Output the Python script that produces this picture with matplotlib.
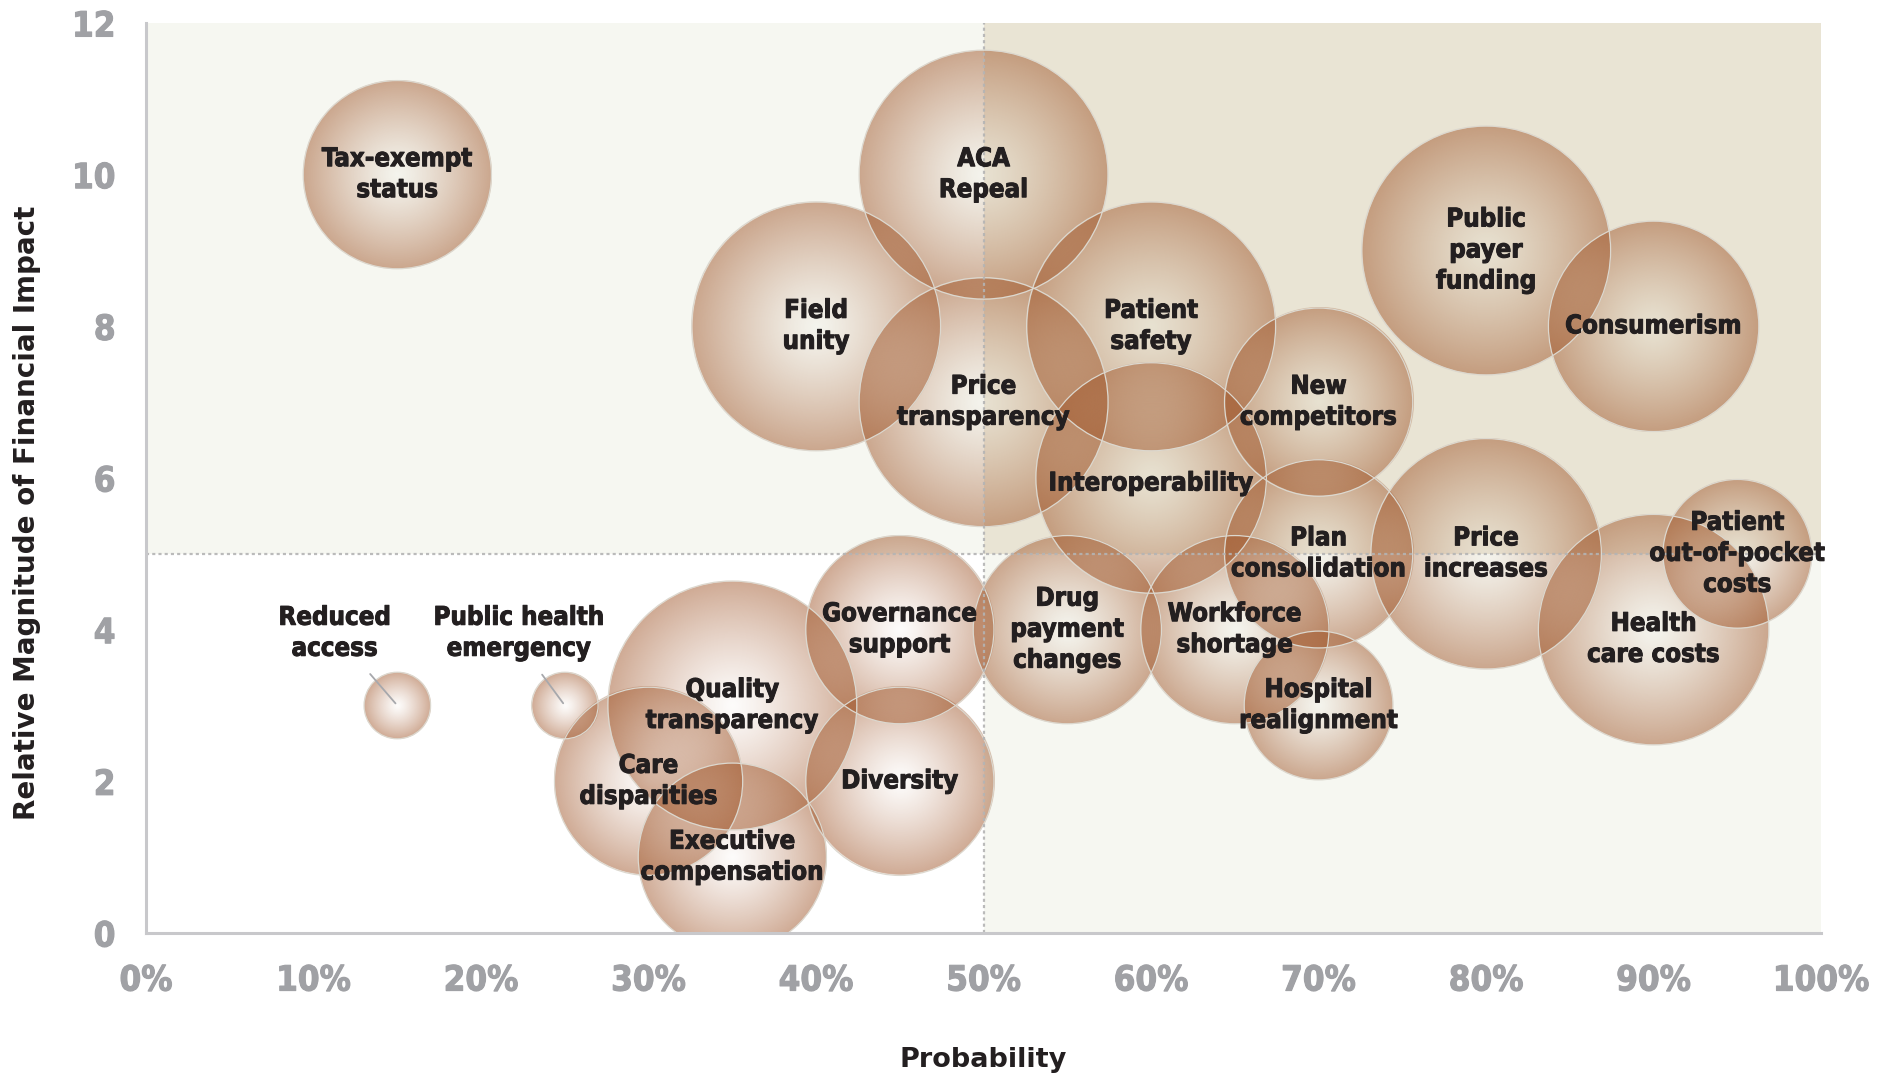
import matplotlib
matplotlib.use("Agg")
import matplotlib.pyplot as plt
import matplotlib.patheffects as pe
import numpy as np

# ---- data ----
risk_labels = ["Tax-exempt\nstatus", "ACA\nRepeal", "Field\nunity", "Patient\nsafety",
               "Price\ntransparency", "New\ncompetitors", "Interoperability",
               "Public\npayer\nfunding", "Consumerism", "Plan\nconsolidation",
               "Price\nincreases", "Patient\nout-of-pocket\ncosts", "Health\ncare costs",
               "Drug\npayment\nchanges", "Workforce\nshortage", "Hospital\nrealignment",
               "Governance\nsupport", "Quality\ntransparency", "Care\ndisparities",
               "Executive\ncompensation", "Diversity", "Reduced\naccess",
               "Public health\nemergency"]
probability = [0.15, 0.50, 0.40, 0.60, 0.50, 0.70, 0.60, 0.80, 0.90, 0.70, 0.80, 0.95,
               0.90, 0.55, 0.65, 0.70, 0.45, 0.35, 0.30, 0.35, 0.45, 0.15, 0.25]
impact = [10, 10, 8, 8, 7, 7, 6, 9, 8, 5, 5, 5, 4, 4, 4, 3, 4, 3, 2, 1, 2, 3, 3]
bubble_size = [8, 14, 14, 14, 14, 8, 12, 14, 10, 8, 12, 5, 12, 8, 8, 5, 8, 14, 8, 8, 8, 1, 1]

x_ticks = [0, 0.1, 0.2, 0.3, 0.4, 0.5, 0.6, 0.7, 0.8, 0.9, 1.0]
x_tick_labels = ["0%", "10%", "20%", "30%", "40%", "50%", "60%", "70%", "80%", "90%", "100%"]
y_ticks = [0, 2, 4, 6, 8, 10, 12]
x_split = 0.5
y_split = 5

# labels that sit next to their (tiny) bubble, with a leader line
callouts = {"Reduced\naccess": ((-45, 52), (0.72, 0)),
            "Public health\nemergency": ((-33, 52), (0.58, 0))}
label_nudge = {"Interoperability": (0, -4), "Health\ncare costs": (0, -7)}

DPI = 100
ink = "#231f20"
tick_grey = "#a0a1a5"
cond = dict(family="DejaVu Sans", fontstretch="condensed", fontweight="bold")
heavy = [pe.withStroke(linewidth=0.7, foreground=ink)]

fig = plt.figure(figsize=(18.87, 10.79), dpi=DPI)
ax = fig.add_axes([0.0774, 0.1353, 0.8877, 0.8434])
ax.set_xlim(0, 1)
ax.set_ylim(0, 12)

# quadrant backgrounds
ax.fill_between([0, x_split], y_split, 12, color="#f6f7f1", lw=0, zorder=0)
ax.fill_between([x_split, 1], y_split, 12, color="#e9e4d4", lw=0, zorder=0)
ax.fill_between([x_split, 1], 0, y_split, color="#f6f7f1", lw=0, zorder=0)

# pixel scale of the data axes
p0 = ax.transData.transform((0, 0))
px_per_x = ax.transData.transform((1, 0))[0] - p0[0]
px_per_y = ax.transData.transform((0, 1))[1] - p0[1]

# radial gradient sprite (brown tint, nearly clear centre -> denser rim)
N = 401
g = np.linspace(-1, 1, N)
gx, gy = np.meshgrid(g, g)
rr = np.sqrt(gx ** 2 + gy ** 2)
alpha = 0.02 + 0.48 * np.clip(rr, 0, 1) ** 1.2
alpha *= np.clip((1 - rr) * N / 2 + 0.5, 0, 1)
tint = np.array([160, 86, 42]) / 255.0
sprite = np.zeros((N, N, 4))
sprite[..., :3] = tint
sprite[..., 3] = alpha

radius_px = 33.27 * np.sqrt(np.array(bubble_size, dtype=float))

for xv, yv, r in zip(probability, impact, radius_px):
    rx = r / px_per_x
    ry = r / px_per_y
    ax.imshow(sprite, extent=[xv - rx, xv + rx, yv - ry, yv + ry], origin="lower",
              interpolation="bilinear", aspect="auto", zorder=2)

# thin light rims
ax.scatter(probability, impact, s=(2 * radius_px * 72 / DPI) ** 2, facecolors="none",
           edgecolors="#dcd8cf", linewidths=0.9, zorder=3)

# quadrant dividers
ax.axvline(x_split, color="#b4b4b4", lw=1.6, ls=(0, (1.4, 1.4)), zorder=4, alpha=0.9)
ax.axhline(y_split, color="#b4b4b4", lw=1.6, ls=(0, (1.4, 1.4)), zorder=4, alpha=0.9)

for lab, xv, yv in zip(risk_labels, probability, impact):
    if lab in callouts:
        offset, rel = callouts[lab]
        ax.annotate(lab, xy=(xv, yv), xytext=offset, textcoords="offset points",
                    ha="center", va="center", fontsize=18.5, color=ink, linespacing=1.25,
                    zorder=6, path_effects=heavy,
                    arrowprops=dict(arrowstyle="-", color="#a7a8ac", lw=1.3,
                                    shrinkA=9, shrinkB=2, relpos=rel), **cond)
    else:
        dx, dy = label_nudge.get(lab, (0, 0))
        ax.annotate(lab, xy=(xv, yv), xytext=(dx, dy), textcoords="offset points",
                    ha="center", va="center", fontsize=18.5, color=ink, linespacing=1.25,
                    zorder=6, path_effects=heavy, **cond)

ax.set_xlim(0, 1)
ax.set_ylim(0, 12)
for side in ["top", "right"]:
    ax.spines[side].set_visible(False)
for side in ["left", "bottom"]:
    ax.spines[side].set_color("#c8c8cb")
    ax.spines[side].set_linewidth(2.2)
    ax.spines[side].set_zorder(5)

ax.set_xticks(x_ticks)
ax.set_xticklabels(x_tick_labels)
ax.set_yticks(y_ticks)
ax.tick_params(length=0)
ax.tick_params(axis="x", pad=22)
ax.tick_params(axis="y", pad=22)
for t in ax.get_xticklabels() + ax.get_yticklabels():
    t.set_family("DejaVu Sans")
    t.set_fontstretch("condensed")
    t.set_fontweight("bold")
    t.set_fontsize(25)
    t.set_color(tick_grey)
    t.set_path_effects([pe.withStroke(linewidth=0.8, foreground=tick_grey)])

ax.set_xlabel("Probability", fontsize=19.5, fontweight="bold", color=ink, family="DejaVu Sans")
ax.set_ylabel("Relative Magnitude of Financial Impact", fontsize=20, fontweight="bold",
              color=ink, family="DejaVu Sans")
ax.xaxis.set_label_coords(0.5, -0.125)
ax.yaxis.set_label_coords(-0.063, 0.4615)

fig.savefig("out.png", dpi=DPI)
